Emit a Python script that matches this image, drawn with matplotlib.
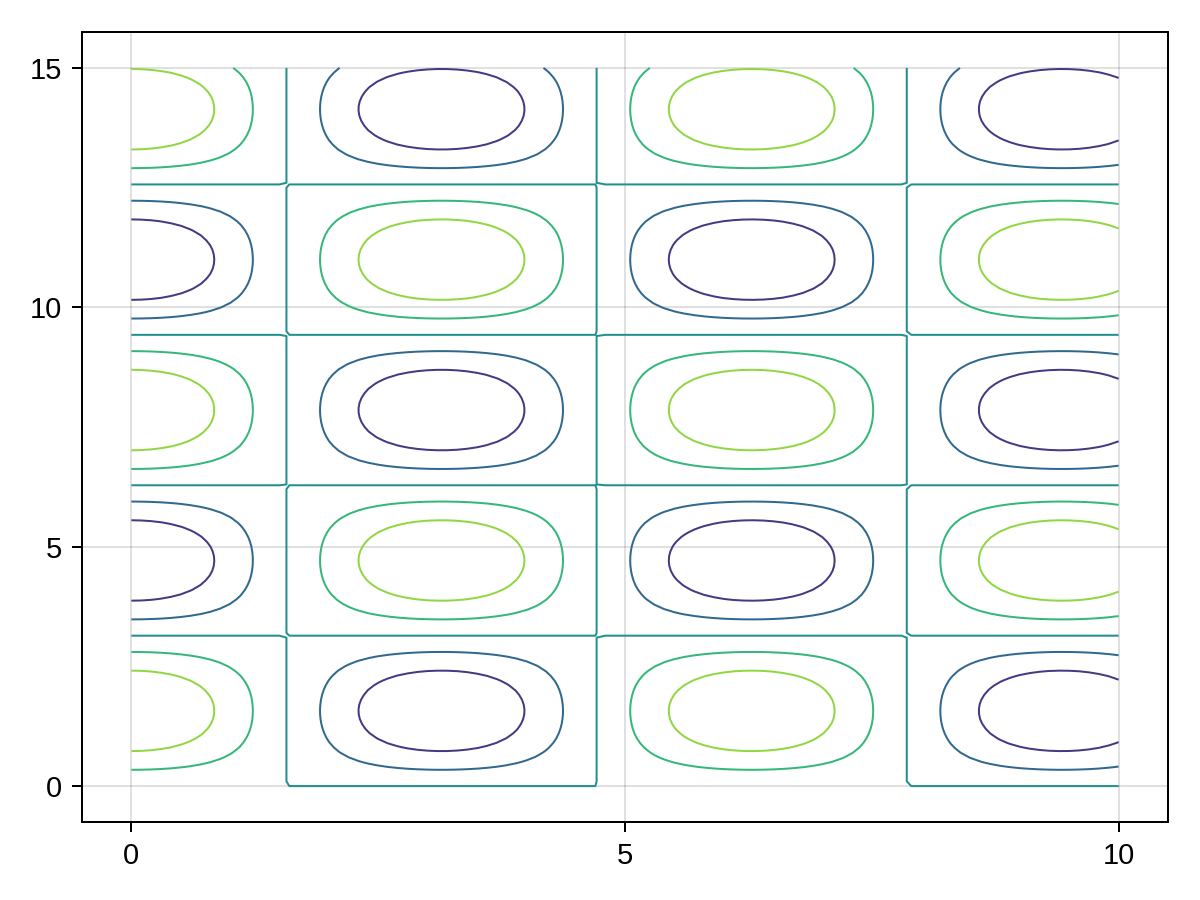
import numpy as np
import matplotlib.pyplot as plt

plt.rcParams['font.family'] = ['Liberation Sans', 'DejaVu Sans']

# grid the field was sampled on
xs = np.arange(0, 10.0001, 0.1)
ys = np.arange(0, 15.0001, 0.1)
# zero level nudged so the y=0 edge is traced like the reference
levels = [-2/3, -1/3, -1e-9, 1/3, 2/3]
xticks = [0, 5, 10]
yticks = [0, 5, 10, 15]

X, Y = np.meshgrid(xs, ys)
Z = np.cos(X) * np.sin(Y)

fig = plt.figure(figsize=(6, 4.5), dpi=200)
ax = fig.add_axes([82/1200, 1 - 822/900, (1168 - 82)/1200, (822 - 32)/900])

ax.contour(X, Y, Z, levels=levels, cmap='viridis', vmin=-1, vmax=1,
           linewidths=0.72)

ax.set_xlim(-0.5, 10.5)
ax.set_ylim(-0.75, 15.75)
ax.set_xticks(xticks)
ax.set_yticks(yticks)
ax.grid(True, color='black', alpha=0.12, linewidth=0.72)
ax.set_axisbelow(True)
ax.tick_params(direction='out', length=3.6, width=0.72, labelsize=10.5, pad=3.5)
for s in ax.spines.values():
    s.set_linewidth(0.72)

fig.savefig('out.png', dpi=200)
